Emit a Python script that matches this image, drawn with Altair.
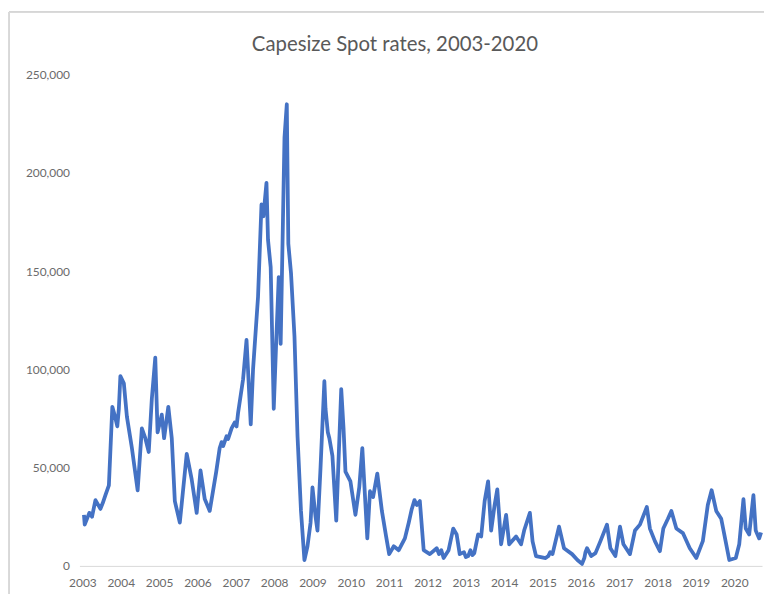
import altair as alt
import pandas as pd

years = [
    2003.04, 2003.06, 2003.18, 2003.25, 2003.34, 2003.47, 2003.53, 2003.60, 2003.69, 2003.78,
    2003.85, 2003.91, 2003.95, 2003.99, 2004.08, 2004.16, 2004.29, 2004.44, 2004.55, 2004.64,
    2004.73, 2004.81, 2004.90, 2004.96, 2005.07, 2005.13, 2005.24, 2005.33, 2005.41, 2005.54,
    2005.72, 2005.85, 2005.98, 2006.08, 2006.19, 2006.32, 2006.49, 2006.58, 2006.63, 2006.67,
    2006.76, 2006.80, 2006.89, 2006.97, 2007.02, 2007.06, 2007.19, 2007.28, 2007.39, 2007.45,
    2007.58, 2007.67, 2007.72, 2007.80, 2007.84, 2007.91, 2007.99, 2008.05, 2008.12, 2008.17,
    2008.23, 2008.27, 2008.33, 2008.37, 2008.44, 2008.53, 2008.61, 2008.70, 2008.79, 2008.87,
    2008.95, 2009.00, 2009.08, 2009.13, 2009.21, 2009.31, 2009.34, 2009.40, 2009.44, 2009.52,
    2009.62, 2009.75, 2009.81, 2009.86, 2009.99, 2010.12, 2010.22, 2010.30, 2010.43, 2010.50,
    2010.58, 2010.69, 2010.81, 2010.92, 2011.00, 2011.12, 2011.25, 2011.41, 2011.51, 2011.59,
    2011.66, 2011.72, 2011.80, 2011.90, 2012.06, 2012.24, 2012.30, 2012.36, 2012.42, 2012.55,
    2012.67, 2012.76, 2012.84, 2012.95, 2013.00, 2013.06, 2013.12, 2013.17, 2013.22, 2013.32,
    2013.40, 2013.49, 2013.58, 2013.66, 2013.75, 2013.82, 2013.92, 2014.05, 2014.13, 2014.31,
    2014.44, 2014.52, 2014.67, 2014.74, 2014.83, 2015.08, 2015.15, 2015.20, 2015.26, 2015.43,
    2015.56, 2015.77, 2015.91, 2016.03, 2016.09, 2016.12, 2016.16, 2016.27, 2016.38, 2016.51,
    2016.68, 2016.77, 2016.90, 2017.02, 2017.11, 2017.28, 2017.41, 2017.54, 2017.72, 2017.80,
    2017.93, 2018.06, 2018.15, 2018.27, 2018.36, 2018.49, 2018.66, 2018.84, 2019.01, 2019.18,
    2019.31, 2019.41, 2019.53, 2019.66, 2019.74, 2019.87, 2020.04, 2020.13, 2020.24, 2020.30,
    2020.39, 2020.50, 2020.56, 2020.65, 2020.70,
]

# Capesize spot rate, USD/day
rates = [
    26000, 21000, 27000, 25000, 33500, 29000, 32000, 36000, 41000, 81000,
    76000, 71000, 80000, 96600, 93000, 76000, 60000, 38500, 70000, 65000,
    58000, 85000, 106000, 68000, 77000, 65000, 81000, 65000, 33000, 22000,
    57000, 44000, 27000, 48600, 34000, 28000, 48000, 60000, 63000, 61000,
    66000, 64600, 70000, 73000, 71000, 78000, 95000, 115000, 72000, 100000,
    137000, 184000, 178000, 195000, 166000, 152000, 80000, 112000, 147000, 113000,
    176000, 218000, 235000, 164000, 149000, 117000, 66000, 28000, 3000, 10000,
    22000, 40000, 25000, 18000, 50000, 94000, 80000, 68000, 65000, 56000,
    23000, 90000, 70000, 48000, 43000, 26000, 40000, 60000, 14000, 38000,
    35000, 47000, 28000, 15000, 6000, 10000, 8000, 14000, 22000, 29000,
    33500, 31000, 33000, 8000, 6000, 9000, 6000, 8000, 4000, 8000,
    19000, 16000, 6000, 7000, 4500, 5000, 8000, 5500, 6500, 16000,
    15000, 33000, 43000, 18000, 31000, 39000, 11000, 26000, 11000, 15000,
    11000, 18000, 27000, 12500, 5000, 4000, 5000, 7000, 6000, 20000,
    9000, 6000, 3000, 1000, 4000, 7000, 9000, 5000, 6500, 12600,
    21000, 9000, 5000, 20000, 11000, 6000, 18000, 21000, 30000, 19000,
    12600, 7500, 19000, 24000, 28000, 19000, 16700, 9000, 4000, 12600,
    31000, 38500, 28000, 24000, 16000, 3000, 4000, 11000, 34000, 19000,
    16000, 36000, 18000, 14000, 17000,
]

year_ticks = list(range(2003, 2021))
rate_ticks = [0, 50000, 100000, 150000, 200000, 250000]
title_text = ["Capesize Spot rates, 2003-2020"]

df = pd.DataFrame({"year": years, "rate": rates})

FONT = "Lato"
TXT = "#595959"
LBL = "#6b6b6b"

line = alt.Chart(df).mark_line(color="#4472C4", strokeWidth=3.8, strokeJoin="round").encode(
    x=alt.X(
        "year:Q",
        scale=alt.Scale(domain=[2002.922, 2020.724], nice=False, zero=False),
        axis=alt.Axis(
            values=year_ticks, format="d", title=None, grid=False, ticks=False,
            domainColor="#d9d9d9", domainWidth=1, labelColor=LBL, labelFontSize=12,
            labelFont=FONT, labelPadding=12, labelFlush=False, labelOverlap=False,
        ),
    ),
    y=alt.Y(
        "rate:Q",
        scale=alt.Scale(domain=[0, 250000], nice=False),
        axis=alt.Axis(
            values=rate_ticks, format=",.0f", title=None, grid=False, ticks=False,
            domain=False, labelColor=LBL, labelFontSize=12, labelFont=FONT,
            labelPadding=10,
        ),
    ),
)

border = alt.Chart(df).mark_rect(fill=None, stroke="#d9d9d9", strokeWidth=1).encode(
    x=alt.value(-71), x2=alt.value(720), y=alt.value(-63), y2=alt.value(560)
)

title = alt.Chart(pd.DataFrame({"t": title_text})).mark_text(
    font=FONT, fontSize=20.5, color=TXT, align="center", baseline="middle"
).encode(text="t:N", x=alt.value(318), y=alt.value(-30))

chart = alt.layer(border, line, title).properties(
    width=688,
    height=495,
    autosize=alt.AutoSizeParams(type="none"),
    padding={"left": 72, "top": 65, "right": 2, "bottom": 26},
).configure_view(stroke=None)

chart.save("out.html", embed_options={"renderer": "svg", "actions": False})
